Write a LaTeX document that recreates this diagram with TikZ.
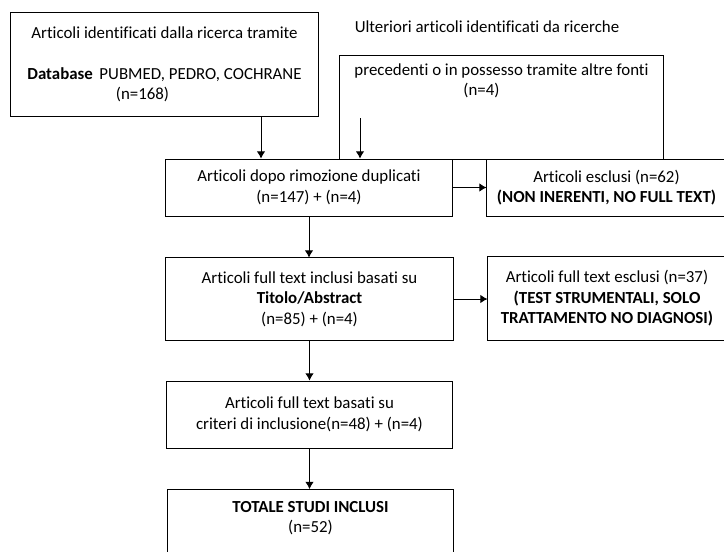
\documentclass[tikz,border=0pt]{standalone}
\usepackage{fontspec}
\setmainfont{Carlito}[Ligatures=NoCommon]
\usetikzlibrary{arrows.meta,positioning}

\tikzset{
  box/.style={draw, line width=0.7pt, fill=white, align=center, inner sep=0pt},
  note/.style={align=center, inner sep=0pt},
  arr/.style={-{Latex[length=5pt,width=6pt]}, line width=0.7pt}
}

\begin{document}
\begin{tikzpicture}[x=0.025cm, y=-0.025cm, font=\fontsize{12}{14.6}\selectfont]
    \useasboundingbox (0,0) rectangle (724,552);
    \clip (0,0) rectangle (724,552);

    \node[box, minimum width=7.675cm, minimum height=2.575cm] (db) at (164.5,64.5)
        {Articoli identificati dalla ricerca tramite\\[14.6pt]
         \textbf{Database}\, PUBMED, PEDRO, COCHRANE\\ (n=168)\hspace*{1.1cm}\null};
    \node[note, anchor=base] (ult) at (487,32) {Ulteriori articoli identificati da ricerche};
    \node[draw, line width=0.7pt, minimum width=8.075cm, minimum height=2.575cm] (prec) at (501.5,107.5) {};
    \node[note, below=5.5pt of prec.north] (precnote)
        {precedenti o in possesso tramite altre fonti\\ (n=4)\hspace*{1cm}\null};

    \node[box, minimum width=7.15cm, minimum height=1.425cm] (dupl) at (309,187.5)
        {Articoli dopo rimozione duplicati\\ (n=147) + (n=4)};
    \node[box, minimum width=5.975cm, minimum height=1.425cm] (escl) at (606.5,187.5)
        {Articoli esclusi (n=62)\\ \textbf{(NON INERENTI, NO FULL TEXT)}};
    \node[box, minimum width=7.175cm, minimum height=2.05cm] (titolo) at (309.5,299)
        {Articoli full text inclusi basati su\\ \textbf{Titolo/Abstract}\\ (n=85) + (n=4)};
    \node[box, minimum width=5.95cm, minimum height=2.075cm] (ftescl) at (607,298.5)
        {Articoli full text esclusi (n=37)\\ \textbf{(TEST STRUMENTALI, SOLO}\\ \textbf{TRATTAMENTO NO DIAGNOSI)}};
    \node[box, minimum width=7.125cm, minimum height=1.675cm] (crit) at (309.5,414.5)
        {Articoli full text basati su\\ criteri di inclusione(n=48) + (n=4)};
    \node[box, minimum width=7.125cm, minimum height=2.5cm, anchor=north] (tot) at (310.5,489) {};
    \node[note, below=8.5pt of tot.north] (totnote) {\textbf{TOTALE STUDI INCLUSI}\\ (n=52)};

    % helpers for the two inflow arrows
    \coordinate (dbx) at (261,0);
    \coordinate (precstart) at (360,118);

    \draw[arr] (db.south -| dbx) -- (dupl.north -| dbx);
    \draw[arr] (precstart) -- (dupl.north -| precstart);
    \draw[arr] (dupl) -- (escl);
    \draw[arr] (titolo.east) -- (titolo.east -| ftescl.west);
    \draw[arr] (dupl.south) -- (dupl.south |- titolo.north);
    \draw[arr] (titolo.south) -- (titolo.south |- crit.north);
    \draw[arr] (crit.south) -- (crit.south |- tot.north);
\end{tikzpicture}
\end{document}
